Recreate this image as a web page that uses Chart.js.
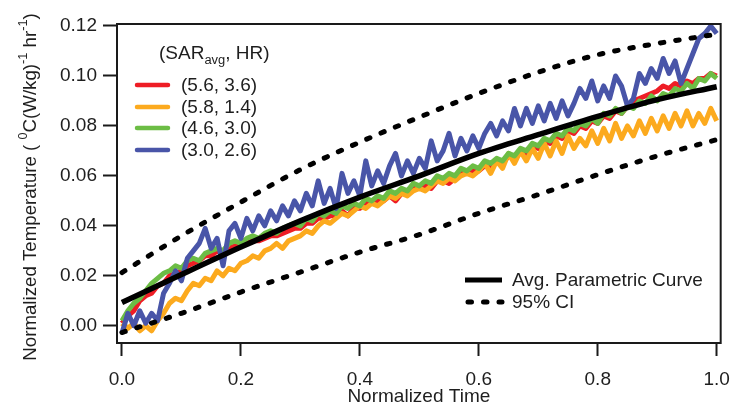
<!DOCTYPE html>
<html>
<head>
<meta charset="utf-8">
<script src="https://cdn.jsdelivr.net/npm/chart.js@4.4.1/dist/chart.umd.min.js"></script>
<style>
html,body{margin:0;padding:0;background:#fff;}
#wrap{width:742px;height:413px;}
</style>
</head>
<body>
<div id="wrap"><canvas id="c" width="742" height="413"></canvas></div>
<script>
// ---- data ----
const times = [0,0.01,0.02,0.03,0.04,0.05,0.06,0.07,0.08,0.09,0.10,0.11,0.12,0.13,0.14,0.15,0.16,0.17,0.18,0.19,0.20,0.21,0.22,0.23,0.24,0.25,0.26,0.27,0.28,0.29,0.30,0.31,0.32,0.33,0.34,0.35,0.36,0.37,0.38,0.39,0.40,0.41,0.42,0.43,0.44,0.45,0.46,0.47,0.48,0.49,0.50,0.51,0.52,0.53,0.54,0.55,0.56,0.57,0.58,0.59,0.60,0.61,0.62,0.63,0.64,0.65,0.66,0.67,0.68,0.69,0.70,0.71,0.72,0.73,0.74,0.75,0.76,0.77,0.78,0.79,0.80,0.81,0.82,0.83,0.84,0.85,0.86,0.87,0.88,0.89,0.90,0.91,0.92,0.93,0.94,0.95,0.96,0.97,0.98,0.99,1.00];

const seriesRed = [0.001,0.004,0.006,0.010,0.012,0.013,0.016,0.017,0.020,0.021,0.022,0.024,0.025,0.026,0.028,
  0.028,0.030,0.029,0.031,0.032,0.032,0.033,0.034,0.034,0.035,0.036,0.036,0.037,0.038,0.039,
  0.039,0.041,0.041,0.043,0.043,0.044,0.044,0.046,0.044,0.047,0.047,0.049,0.049,0.050,0.050,
  0.052,0.050,0.053,0.053,0.055,0.055,0.056,0.055,0.058,0.058,0.057,0.059,0.061,0.061,0.062,
  0.062,0.064,0.064,0.066,0.065,0.068,0.067,0.070,0.069,0.072,0.071,0.074,0.073,0.076,0.075,
  0.078,0.077,0.080,0.079,0.082,0.081,0.084,0.083,0.086,0.085,0.088,0.090,0.091,0.092,0.093,
  0.094,0.096,0.095,0.097,0.096,0.098,0.097,0.099,0.099,0.101,0.100];

const seriesOrange = [0.001,-0.001,0.001,-0.002,0.000,-0.002,0.002,0.005,0.009,0.011,0.010,0.014,0.017,0.016,0.019,0.018,0.022,0.020,0.023,0.022,0.025,0.026,0.028,0.027,0.030,0.031,0.033,0.031,0.034,0.035,0.036,0.038,0.037,0.040,0.042,0.041,0.043,0.045,0.044,0.046,0.048,0.047,0.049,0.048,0.050,0.052,0.051,0.053,0.052,0.054,0.055,0.054,0.056,0.058,0.057,0.059,0.058,0.060,0.061,0.060,0.062,0.065,0.061,0.066,0.063,0.069,0.065,0.070,0.066,0.071,0.067,0.073,0.068,0.074,0.069,0.076,0.071,0.075,0.072,0.078,0.073,0.079,0.074,0.081,0.075,0.080,0.076,0.082,0.077,0.083,0.078,0.084,0.079,0.085,0.080,0.086,0.080,0.085,0.081,0.087,0.082];

const seriesGreen = [0.002,0.006,0.009,0.011,0.014,0.017,0.019,0.021,0.022,0.024,0.023,0.026,0.027,0.026,0.029,0.030,0.031,0.030,0.033,0.034,0.033,0.035,0.036,0.035,0.037,0.038,0.037,0.039,0.040,0.041,0.040,0.043,0.042,0.045,0.044,0.046,0.045,0.048,0.047,0.049,0.048,0.051,0.050,0.052,0.051,0.054,0.053,0.055,0.054,0.057,0.056,0.058,0.057,0.060,0.059,0.061,0.060,0.063,0.062,0.064,0.063,0.066,0.065,0.067,0.066,0.069,0.068,0.071,0.070,0.073,0.072,0.075,0.074,0.077,0.076,0.079,0.078,0.081,0.080,0.083,0.081,0.085,0.084,0.087,0.085,0.088,0.087,0.090,0.089,0.092,0.090,0.093,0.092,0.095,0.094,0.097,0.095,0.099,0.098,0.101,0.099];

const seriesBlue = [-0.003,0.005,0.000,0.006,0.001,0.005,0.002,0.013,0.017,0.022,0.018,0.027,0.030,0.033,0.039,0.031,0.035,0.024,0.038,0.041,0.035,0.043,0.038,0.044,0.040,0.046,0.042,0.048,0.044,0.050,0.046,0.053,0.048,0.058,0.049,0.055,0.047,0.061,0.053,0.058,0.052,0.066,0.056,0.062,0.057,0.064,0.069,0.060,0.066,0.061,0.067,0.063,0.074,0.066,0.070,0.077,0.068,0.075,0.070,0.076,0.071,0.077,0.081,0.076,0.082,0.078,0.087,0.080,0.087,0.081,0.088,0.082,0.089,0.083,0.090,0.084,0.089,0.095,0.091,0.098,0.090,0.096,0.091,0.100,0.096,0.088,0.091,0.101,0.097,0.103,0.099,0.107,0.101,0.106,0.097,0.103,0.109,0.115,0.117,0.120,0.117];

const curveTimes = [0,0.1,0.2,0.3,0.4,0.5,0.6,0.7,0.8,0.9,1.0];
const avgCurve = [0.0093,0.0205,0.0315,0.0420,0.0515,0.0600,0.0690,0.0765,0.0838,0.0905,0.0957];
const ciUpper  = [0.0213,0.0360,0.0495,0.0625,0.0735,0.0835,0.0930,0.1015,0.1085,0.1130,0.1167];
const ciLower  = [-0.0027,0.0050,0.0135,0.0215,0.0295,0.0365,0.0450,0.0525,0.0605,0.0680,0.0745];

const xTicks = [0,0.2,0.4,0.6,0.8,1.0];
const yTicks = [0,0.02,0.04,0.06,0.08,0.10,0.12];

const seriesLabels = ['(5.6, 3.6)','(5.8, 1.4)','(4.6, 3.0)','(3.0, 2.6)'];
const seriesColors = ['#ee1d25','#fcaa1e','#6cbd45','#4955a8'];
const seriesData = [seriesRed, seriesOrange, seriesGreen, seriesBlue];

// ---- helpers ----
const FONT = '"Liberation Sans", Arial, Helvetica, sans-serif';
const TXT = '#1e1e1e';
const FS = 19;
const pts = (xs, ys) => xs.map((x, i) => ({x: x, y: ys[i]}));

const noisy = seriesData.map((d, i) => ({
  label: seriesLabels[i], data: pts(times, d), borderColor: seriesColors[i],
  borderWidth: 5, pointRadius: 0, tension: 0, order: 10 - i, borderJoinStyle: 'round'
}));

const DOT = [3.5, 12];
const datasets = [
  {label: 'Avg. Parametric Curve', data: pts(curveTimes, avgCurve), borderColor: '#000', borderWidth: 5.5,
   pointRadius: 0, cubicInterpolationMode: 'monotone', order: 1},
  {label: '95% CI', data: pts(curveTimes, ciUpper), borderColor: '#000', borderWidth: 5,
   borderDash: DOT, borderCapStyle: 'round', pointRadius: 0, cubicInterpolationMode: 'monotone', order: 2},
  {label: '95% CI lower', data: pts(curveTimes, ciLower), borderColor: '#000', borderWidth: 5,
   borderDash: DOT, borderCapStyle: 'round', pointRadius: 0, cubicInterpolationMode: 'monotone', order: 3},
  ...noisy
];

// draw text with sub/superscript segments
function drawSegments(ctx, segs, x, y, size) {
  let cx = x;
  segs.forEach(s => {
    const fs = s.t ? size * 0.68 : size;
    ctx.font = fs + 'px ' + FONT;
    const dy = s.t === 'sup' ? -size * 0.38 : (s.t === 'sub' ? size * 0.28 : 0);
    ctx.fillText(s.s, cx, y + dy);
    cx += ctx.measureText(s.s).width;
  });
  return cx - x;
}
function measureSegments(ctx, segs, size) {
  let w = 0;
  segs.forEach(s => {
    const fs = s.t ? size * 0.68 : size;
    ctx.font = fs + 'px ' + FONT;
    w += ctx.measureText(s.s).width;
  });
  return w;
}

const decor = {
  id: 'decor',
  afterDatasetsDraw(chart) {
    const ctx = chart.ctx, a = chart.chartArea;
    ctx.save();
    // frame
    ctx.strokeStyle = '#1a1a1a'; ctx.lineWidth = 2;
    ctx.strokeRect(a.left, a.top, a.right - a.left, a.bottom - a.top);

    ctx.fillStyle = TXT;
    ctx.textBaseline = 'alphabetic';
    ctx.textAlign = 'left';
    // top-left legend
    drawSegments(ctx, [{s: '(SAR'}, {s: 'avg', t: 'sub'}, {s: ', HR)'}], 159, 59, FS);
    const rowY = [85, 107, 128, 150];
    const ds = chart.data.datasets.slice(3);
    ds.forEach((d, i) => {
      ctx.strokeStyle = d.borderColor; ctx.lineWidth = 4.5; ctx.lineCap = 'round';
      ctx.beginPath(); ctx.moveTo(137, rowY[i]); ctx.lineTo(168, rowY[i]); ctx.stroke();
      ctx.fillStyle = TXT; ctx.font = FS + 'px ' + FONT; ctx.textBaseline = 'middle';
      ctx.fillText(d.label, 181, rowY[i] + 1);
    });
    // bottom-right legend
    ctx.strokeStyle = '#000'; ctx.lineCap = 'butt'; ctx.lineWidth = 5;
    ctx.beginPath(); ctx.moveTo(465, 280); ctx.lineTo(502, 280); ctx.stroke();
    ctx.lineWidth = 5; ctx.lineCap = 'round'; ctx.setLineDash(DOT);
    ctx.beginPath(); ctx.moveTo(468, 302); ctx.lineTo(502, 302); ctx.stroke();
    ctx.setLineDash([]);
    ctx.fillStyle = TXT; ctx.font = FS + 'px ' + FONT; ctx.textBaseline = 'middle';
    ctx.fillText(chart.data.datasets[0].label, 512, 281);
    ctx.fillText(chart.data.datasets[1].label, 512, 303);

    // x title
    ctx.textAlign = 'center'; ctx.textBaseline = 'middle'; ctx.font = FS + 'px ' + FONT;
    ctx.fillText('Normalized Time', (a.left + a.right) / 2, 397);

    // y title (rotated)
    const segs = [{s: 'Normalized Temperature ( '}, {s: '0', t: 'sup'}, {s: 'C(W/kg)'}, {s: '-1', t: 'sup'},
                  {s: ' hr'}, {s: '-1', t: 'sup'}, {s: ')'}];
    const size = 18.7;
    const w = measureSegments(ctx, segs, size);
    ctx.translate(31, 187);
    ctx.rotate(-Math.PI / 2);
    ctx.textAlign = 'left'; ctx.textBaseline = 'middle';
    drawSegments(ctx, segs, -w / 2, 0, size);
    ctx.restore();
  }
};

new Chart(document.getElementById('c'), {
  type: 'line',
  data: {datasets: datasets},
  options: {
    responsive: false, animation: false, devicePixelRatio: 1,
    layout: {padding: {left: 0, right: 15, top: 24, bottom: 0}},
    plugins: {legend: {display: false}, tooltip: {enabled: false}},
    elements: {point: {radius: 0}},
    scales: {
      x: {
        type: 'linear', min: -0.0083, max: 1.0067,
        afterFit: s => { s.height = 70; },
        afterBuildTicks: s => { s.ticks = xTicks.map(v => ({value: v})); },
        grid: {drawOnChartArea: false, drawTicks: true, tickLength: 13, tickWidth: 2, tickColor: '#1a1a1a'},
        border: {display: false},
        ticks: {padding: 12, color: TXT, font: {family: FONT, size: FS}, maxRotation: 0, autoSkip: false,
                callback: v => Number(v).toFixed(1)}
      },
      y: {
        type: 'linear', min: -0.0069, max: 0.1208,
        afterFit: s => { s.width = 117; },
        afterBuildTicks: s => { s.ticks = yTicks.map(v => ({value: v})); },
        grid: {drawOnChartArea: false, drawTicks: true, tickLength: 14, tickWidth: 2, tickColor: '#1a1a1a'},
        border: {display: false},
        ticks: {padding: 6, color: TXT, font: {family: FONT, size: FS}, autoSkip: false,
                callback: v => Number(v).toFixed(2)}
      }
    }
  },
  plugins: [decor]
});
</script>
</body>
</html>
